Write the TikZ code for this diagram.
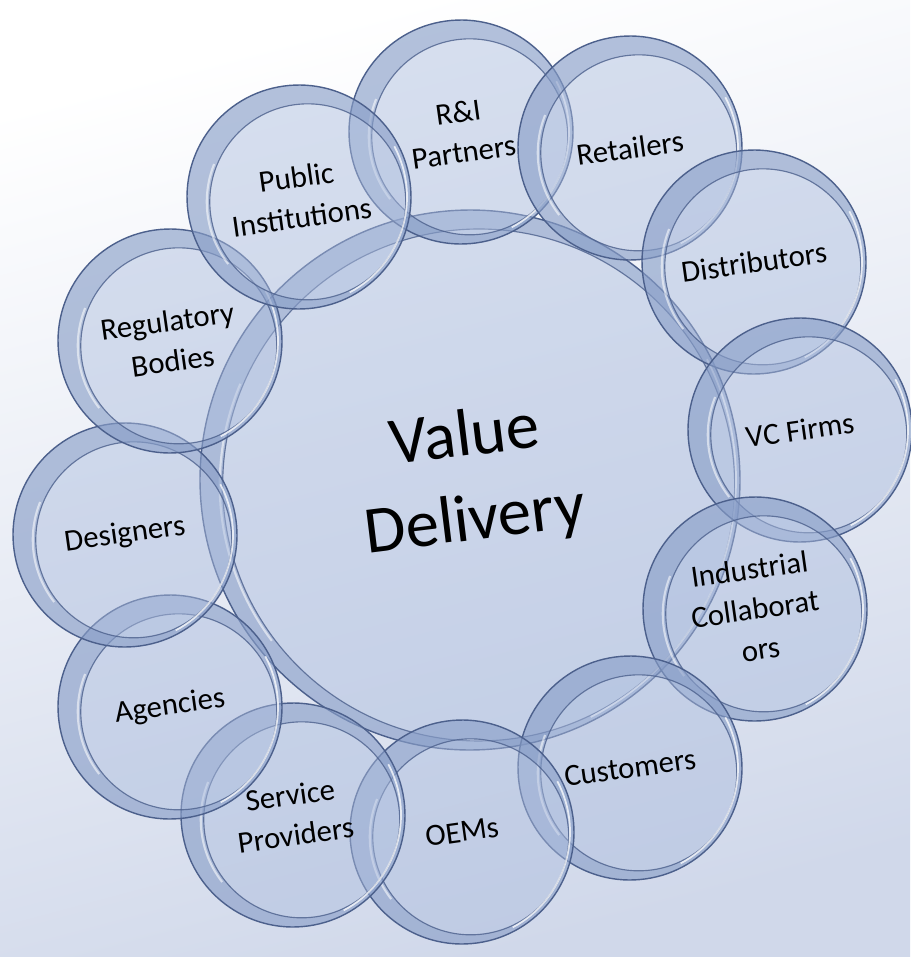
\documentclass[tikz,border=0pt]{standalone}
\usepackage{fontspec}
\setmainfont{Carlito}
\definecolor{glassfill}{RGB}{172,189,222}
\definecolor{rimline}{RGB}{76,96,140}
\definecolor{rimband}{RGB}{104,130,180}
\definecolor{bgblue}{RGB}{208,216,234}
\tikzset{
  glass/.style={circle, inner sep=0pt, minimum size=2*#1, draw=rimline, line width=0.8pt,
    fill=glassfill, fill opacity=0.47, text opacity=1, align=center,
    path picture={
      \fill[rimband, opacity=0.32, even odd rule] (path picture bounding box.center) circle[radius=#1]
        ([shift={(0.16cm,-0.12cm)}]path picture bounding box.center) circle[radius=#1-0.28cm];
      \draw[white, opacity=0.55, line width=1.2pt]
        ([shift={(0.16cm,-0.12cm)}]path picture bounding box.center) ++(150:#1-0.22cm) arc[start angle=150, end angle=210, radius=#1-0.22cm];
      \draw[rimline, opacity=0.8, line width=0.65pt]
        ([shift={(0.16cm,-0.12cm)}]path picture bounding box.center) circle[radius=#1-0.28cm];
      \draw[white, opacity=0.75, line width=1pt]
        (path picture bounding box.center) ++(-70:#1-0.08cm) arc[start angle=-70, end angle=20, radius=#1-0.08cm];
    }},
  ring/.style={glass=2.24cm, rotate=8, font=\fontsize{17.5}{23}\selectfont},
}
\begin{document}
\begin{tikzpicture}[x=0.02cm, y=-0.02cm]
  \shade[top color=white, bottom color=bgblue, shading angle=15] (0,0) rectangle (910,957);
  \useasboundingbox (0,0) rectangle (910,957);
  % centre
  \node[glass=5.4cm, rotate=7, font=\fontsize{38}{48}\selectfont] (value) at (470,480) {Value\\Delivery};
  % ring, clockwise from the top
  \node[ring] (partners) at (461,132) {R\&I\\Partners};
  \node[ring] (retailers) at (630,148) {Retailers};
  \node[ring] (distributors) at (754,262) {Distributors};
  \node[ring] (vcfirms) at (800,430) {VC Firms};
  \node[ring] (industrial) at (755,609) {Industrial\\Collaborat\\ors};
  \node[ring] (customers) at (630,768) {Customers};
  \node[ring] (oems) at (462,832) {OEMs};
  \node[ring] (service) at (293,815) {Service\\Providers};
  \node[ring] (agencies) at (170,707) {Agencies};
  \node[ring] (designers) at (125,535) {Designers};
  \node[ring] (regulatory) at (170,341) {Regulatory\\Bodies};
  \node[ring] (public) at (299,197) {Public\\Institutions};
\end{tikzpicture}
\end{document}
